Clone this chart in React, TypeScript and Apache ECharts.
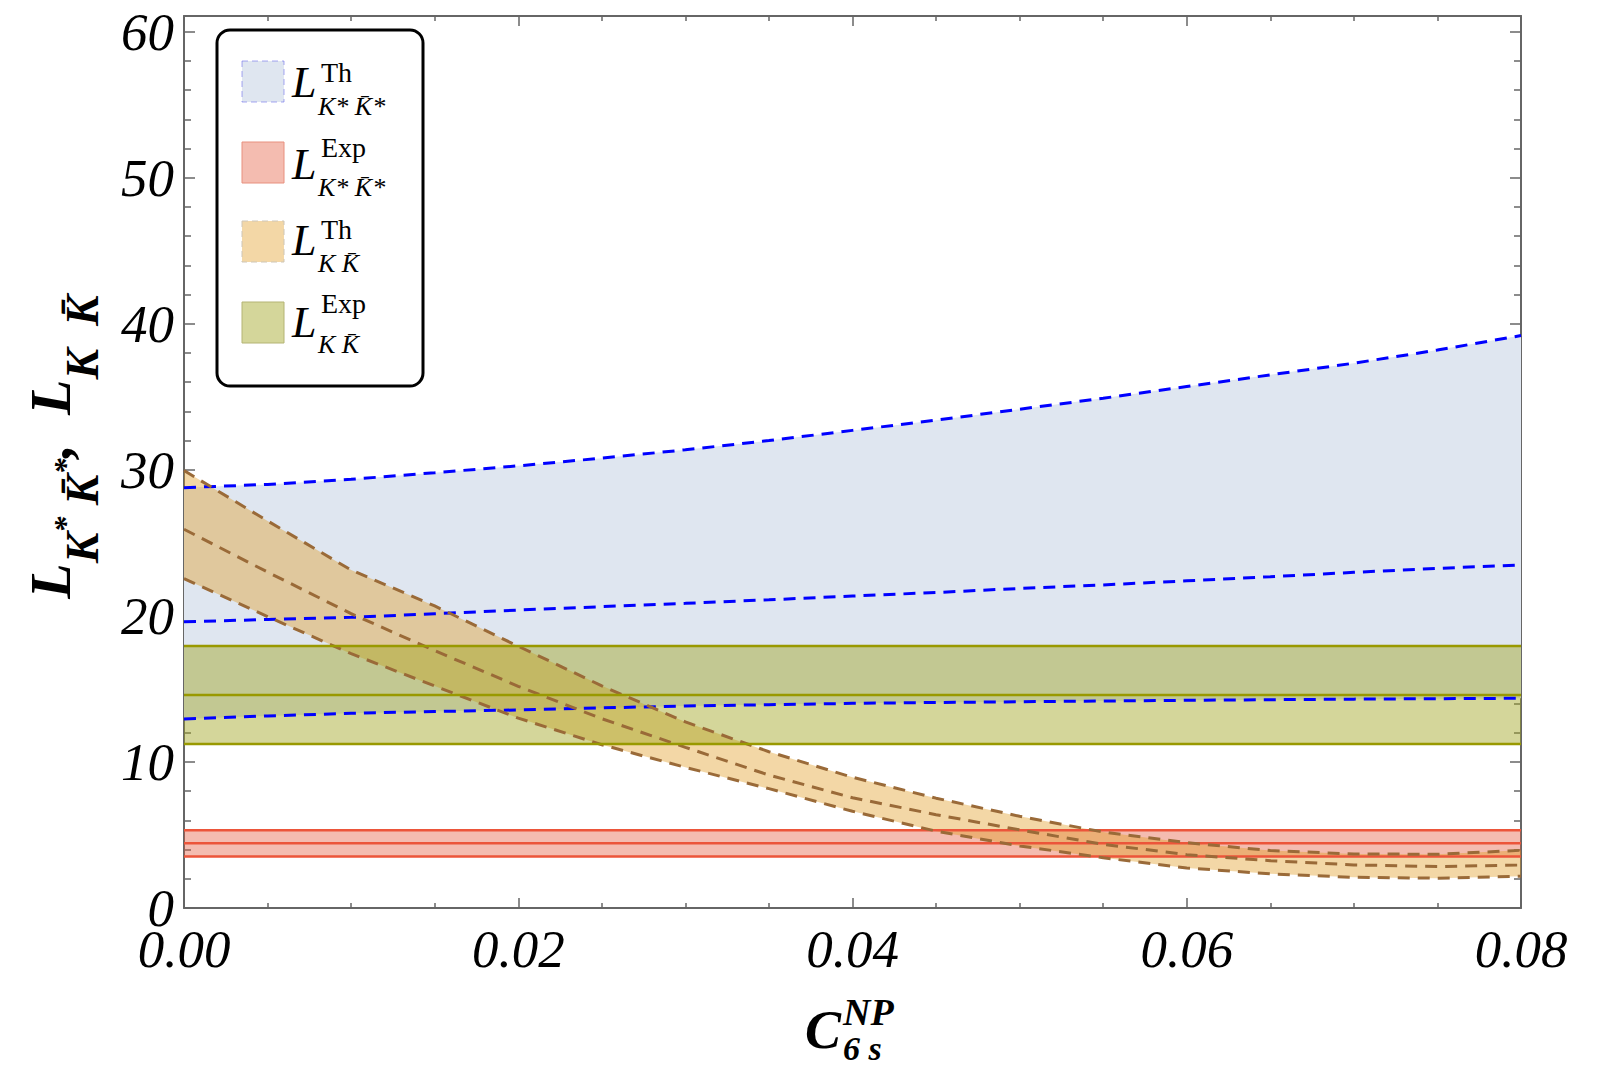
import React, { useEffect, useRef } from "react";
import * as echarts from "echarts";

// ---- data ----
const xs = [0, 0.005, 0.01, 0.015, 0.02, 0.025, 0.03, 0.035, 0.04, 0.045, 0.05, 0.055, 0.06, 0.065, 0.07, 0.075, 0.08];

// L^Th_{K* K̄*} band (blue)
const thKstarUpper = [28.78, 29.0, 29.35, 29.8, 30.27, 30.8, 31.37, 32.0, 32.7, 33.4, 34.15, 34.9, 35.7, 36.5, 37.3, 38.2, 39.19];
const thKstarMid = [19.6, 19.75, 19.9, 20.15, 20.4, 20.63, 20.86, 21.1, 21.36, 21.6, 21.88, 22.12, 22.4, 22.68, 22.98, 23.25, 23.49];
const thKstarLower = [12.94, 13.15, 13.33, 13.45, 13.56, 13.7, 13.83, 13.92, 14.01, 14.07, 14.12, 14.17, 14.22, 14.26, 14.3, 14.33, 14.36];

// L^Th_{K K̄} band (orange)
const thKKUpper = [29.95, 26.5, 23.14, 20.68, 17.92, 15.21, 12.74, 10.7, 8.95, 7.52, 6.28, 5.2, 4.47, 3.93, 3.7, 3.68, 3.95];
const thKKMid = [25.93, 23.0, 20.15, 17.62, 15.18, 12.96, 11.0, 9.1, 7.55, 6.39, 5.35, 4.36, 3.65, 3.24, 2.95, 2.84, 2.94];
const thKKLower = [22.55, 19.95, 17.41, 15.2, 13.0, 11.18, 9.63, 8.17, 6.62, 5.26, 4.25, 3.44, 2.74, 2.34, 2.1, 2.04, 2.18];

// experimental bands: [lower, central, upper]
const expKstarBand = [3.53, 4.43, 5.33];
const expKKBand = [11.23, 14.58, 17.94];

// ticks
const xMajorTicks = [0, 0.02, 0.04, 0.06, 0.08];
const xMinorTicks = [0.005, 0.01, 0.015, 0.025, 0.03, 0.035, 0.045, 0.05, 0.055, 0.065, 0.07, 0.075];
const yMajorTicks = [0, 10, 20, 30, 40, 50, 60];
const yMinorTicks = [2, 4, 6, 8, 12, 14, 16, 18, 22, 24, 26, 28, 32, 34, 36, 38, 42, 44, 46, 48, 52, 54, 56, 58];

// legend texts
const legendSup = ["Th", "Exp", "Th", "Exp"];
const legendSub = ["K* K\u0304*", "K* K\u0304*", "K K\u0304", "K K\u0304"];

const SERIF = '"Liberation Serif", "Times New Roman", serif';
const AXIS_COLOR = "#666666";

const pairs = (ys: number[]) => xs.map((x, i) => [x, ys[i]]);
const flat = (v: number) => [[xs[0], v], [xs[xs.length - 1], v]];

function bandSeries(lower: number[][], upper: number[][], fill: string) {
  return {
    type: "custom",
    coordinateSystem: "cartesian2d",
    xAxisIndex: 0,
    yAxisIndex: 0,
    silent: true,
    data: upper.map((p, i) => [p[0], lower[i][1], p[1]]),
    encode: { x: 0, y: [1, 2] },
    renderItem: (params: any, api: any) => {
      if (params.dataIndex !== 0) return null;
      const top = upper.map((p) => api.coord(p));
      const bot = lower.map((p) => api.coord(p)).reverse();
      return {
        type: "polygon",
        shape: { points: top.concat(bot) },
        style: { fill },
      };
    },
  };
}

function lineSeries(data: number[][], color: string, width: number, dashed: boolean) {
  return {
    type: "line",
    xAxisIndex: 0,
    yAxisIndex: 0,
    data,
    symbol: "none",
    showSymbol: false,
    silent: true,
    lineStyle: { color, width, type: dashed ? [12, 8] : "solid" },
  };
}

function xAxisCfg(position: string, ticks: number[], len: number, showLine: boolean, labels: boolean) {
  return {
    type: "value",
    gridIndex: 0,
    position,
    min: 0,
    max: 0.08,
    axisLine: { show: showLine, onZero: false, lineStyle: { color: AXIS_COLOR, width: 2 } },
    axisTick: { show: true, inside: true, length: len, customValues: ticks, lineStyle: { color: AXIS_COLOR, width: 1.5 } },
    axisLabel: labels
      ? {
          show: true,
          customValues: ticks,
          formatter: (v: number) => v.toFixed(2),
          fontFamily: SERIF,
          fontStyle: "italic",
          fontSize: 53,
          color: "#000",
          margin: 14,
        }
      : { show: false },
    splitLine: { show: false },
    minorTick: { show: false },
  };
}

function yAxisCfg(position: string, ticks: number[], len: number, showLine: boolean, labels: boolean) {
  return {
    type: "value",
    gridIndex: 0,
    position,
    min: 0,
    max: 61.07,
    axisLine: { show: showLine, onZero: false, lineStyle: { color: AXIS_COLOR, width: 2 } },
    axisTick: { show: true, inside: true, length: len, customValues: ticks, lineStyle: { color: AXIS_COLOR, width: 1.5 } },
    axisLabel: labels
      ? {
          show: true,
          customValues: ticks,
          formatter: (v: number) => String(v),
          fontFamily: SERIF,
          fontStyle: "italic",
          fontSize: 53,
          color: "#000",
          margin: 10,
        }
      : { show: false },
    splitLine: { show: false },
    minorTick: { show: false },
  };
}

function txt(x: number, y: number, text: string, size: number, italic: boolean, bold: boolean) {
  return {
    type: "text",
    x,
    y,
    z: 100,
    silent: true,
    style: {
      text,
      fontSize: size,
      fontFamily: SERIF,
      fontStyle: italic ? "italic" : "normal",
      fontWeight: bold ? "bold" : "normal",
      fill: "#000",
      align: "left",
      textAlign: "left",
      verticalAlign: "middle",
      textVerticalAlign: "middle",
    },
  };
}

export default function App() {
  const ref = useRef<HTMLDivElement>(null);

  useEffect(() => {
    if (!ref.current) return;
    const chart = echarts.init(ref.current, null, { renderer: "svg" });

    const blueFill = "#dfe6f0";
    const orangeFill = "rgba(225,155,32,0.4)";
    const greenFill = "rgba(160,164,31,0.45)";
    const redFill = "rgba(227,87,57,0.4)";

    const series: any[] = [
      bandSeries(pairs(thKstarLower), pairs(thKstarUpper), blueFill),
      lineSeries(pairs(thKstarUpper), "#0000ff", 3, true),
      lineSeries(pairs(thKstarMid), "#0000ff", 3, true),
      lineSeries(pairs(thKstarLower), "#0000ff", 3, true),

      bandSeries(flat(expKstarBand[0]), flat(expKstarBand[2]), redFill),
      lineSeries(flat(expKstarBand[0]), "#ec553a", 2.5, false),
      lineSeries(flat(expKstarBand[1]), "#ec553a", 2.5, false),
      lineSeries(flat(expKstarBand[2]), "#ec553a", 2.5, false),

      bandSeries(pairs(thKKLower), pairs(thKKUpper), orangeFill),
      lineSeries(pairs(thKKUpper), "#9a6a38", 3, true),
      lineSeries(pairs(thKKMid), "#9a6a38", 3, true),
      lineSeries(pairs(thKKLower), "#9a6a38", 3, true),

      bandSeries(flat(expKKBand[0]), flat(expKKBand[2]), greenFill),
      lineSeries(flat(expKKBand[0]), "#999900", 2.5, false),
      lineSeries(flat(expKKBand[1]), "#999900", 2.5, false),
      lineSeries(flat(expKKBand[2]), "#999900", 2.5, false),
    ];

    // legend
    const swatchY = [61, 142, 221, 302];
    const swatchStyles = [
      { fill: "#dfe6f0", stroke: "rgba(110,110,235,0.6)", lineDash: [6, 4] },
      { fill: "#f4bcb0", stroke: "#e8907e", lineDash: null },
      { fill: "#f3d7a6", stroke: "#cfc6b6", lineDash: [6, 4] },
      { fill: "#d4d69a", stroke: "#b4b474", lineDash: null },
    ];
    const lBase = [97, 179, 255, 337];
    const supBase = [82, 157, 239, 313];
    const subBase = [115, 196, 272, 353];

    const legendEls: any[] = [
      {
        type: "rect",
        z: 99,
        silent: true,
        shape: { x: 217, y: 30, width: 206, height: 356, r: 13 },
        style: { fill: "#ffffff", stroke: "#000000", lineWidth: 3 },
      },
    ];
    swatchY.forEach((sy, i) => {
      const st = swatchStyles[i];
      legendEls.push({
        type: "rect",
        z: 100,
        silent: true,
        shape: { x: 242, y: sy, width: 42, height: 41 },
        style: { fill: st.fill, stroke: st.stroke, lineWidth: 1, lineDash: st.lineDash || undefined },
      });
      legendEls.push(txt(292, lBase[i] - 0.3375 * 44, "L", 44, true, false));
      legendEls.push(txt(321, supBase[i] - 0.3375 * 28, legendSup[i], 28, false, false));
      legendEls.push(txt(318, subBase[i] - 0.3375 * 26, legendSub[i], 26, true, false));
    });

    // axis titles
    const boldIt = { fontFamily: SERIF, fontStyle: "italic", fontWeight: "bold", fill: "#000" };
    const yTitle = {
      type: "text",
      x: 50,
      y: 447,
      rotation: Math.PI / 2,
      z: 100,
      silent: true,
      style: {
        text: "{L|L}{s|K}{a|*}{s| K\u0304}{a|*}{L|,  L}{s|K  K\u0304}",
        align: "center",
        textAlign: "center",
        verticalAlign: "middle",
        textVerticalAlign: "middle",
        rich: {
          L: { ...boldIt, fontSize: 58, lineHeight: 110, height: 110, verticalAlign: "middle" },
          s: { ...boldIt, fontSize: 46, lineHeight: 46, height: 46, verticalAlign: "bottom" },
          a: { ...boldIt, fontSize: 32, lineHeight: 80, height: 80, verticalAlign: "bottom" },
        },
      },
    };
    const xTitle = [
      txt(805, 1048 - 0.3375 * 54, "C", 54, true, true),
      txt(843, 1025 - 0.3375 * 38, "NP", 38, true, true),
      txt(843, 1060 - 0.3375 * 34, "6 s", 34, true, true),
    ];

    chart.setOption({
      animation: false,
      backgroundColor: "#ffffff",
      grid: { left: 184, right: 79, top: 16, bottom: 159, containLabel: false },
      xAxis: [
        xAxisCfg("bottom", xMajorTicks, 10, true, true),
        xAxisCfg("bottom", xMinorTicks, 5, false, false),
        xAxisCfg("top", xMajorTicks, 10, true, false),
        xAxisCfg("top", xMinorTicks, 5, false, false),
      ],
      yAxis: [
        yAxisCfg("left", yMajorTicks, 11, true, true),
        yAxisCfg("left", yMinorTicks, 7, false, false),
        yAxisCfg("right", yMajorTicks, 11, true, false),
        yAxisCfg("right", yMinorTicks, 7, false, false),
      ],
      series,
      graphic: { elements: [...legendEls, yTitle, ...xTitle] },
    });

    return () => chart.dispose();
  }, []);

  return (
    <div
      ref={ref}
      style={{ position: "fixed", left: 0, top: 0, width: 1600, height: 1067, background: "#fff" }}
    />
  );
}
